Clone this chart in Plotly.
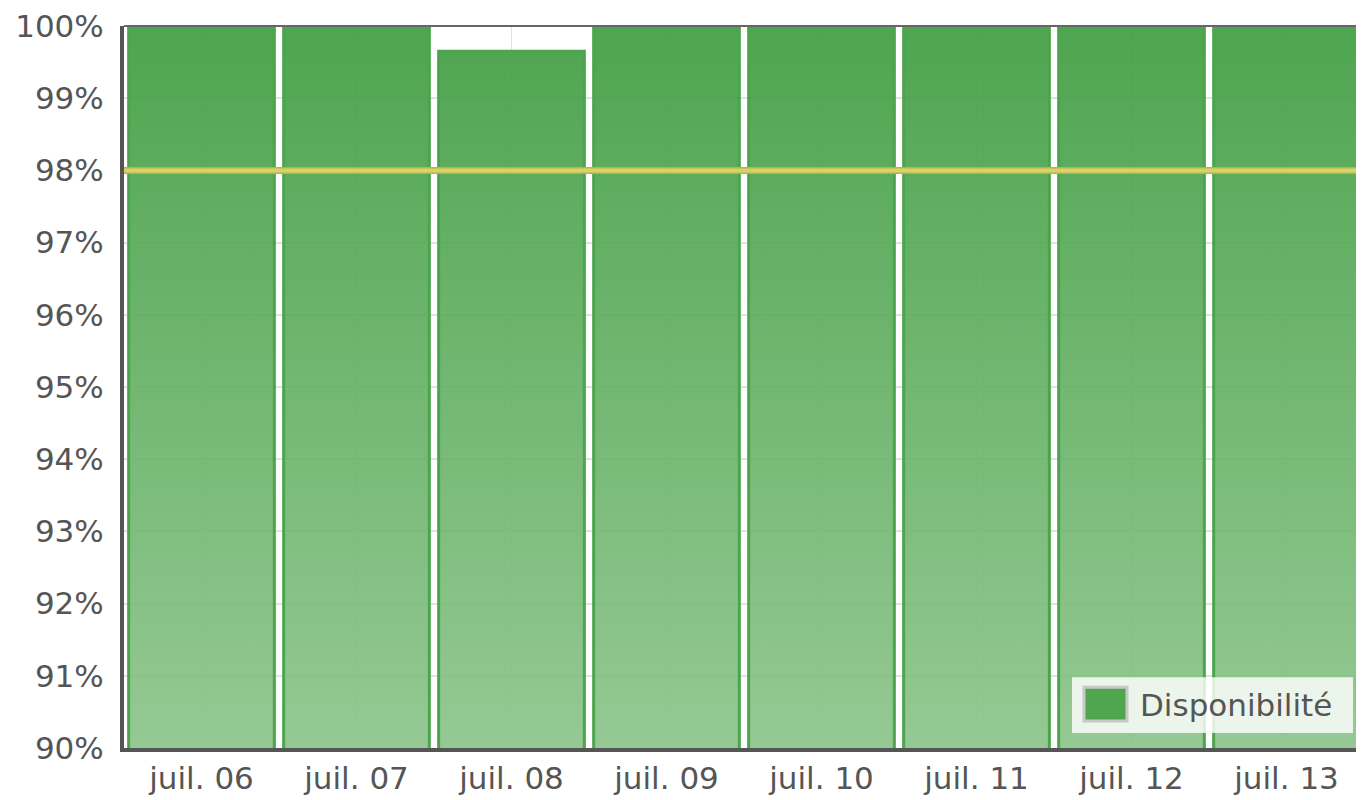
import plotly.graph_objects as go

# ---- data ----
categories = ["juil. 06", "juil. 07", "juil. 08", "juil. 09",
              "juil. 10", "juil. 11", "juil. 12", "juil. 13"]
availability = [100, 100, 99.65, 100, 100, 100, 100, 100]
threshold = 98
y_ticks = list(range(90, 101))
y_tick_labels = [f"{v}%" for v in y_ticks]
series_name = "Disponibilité"

FONT = "DejaVu Sans"
TXT = "#555555"
BAR_HALF = 0.47

# bar rectangles built from the data values
xs, ys = [], []
for i, v in enumerate(availability):
    xs += [i - BAR_HALF, i - BAR_HALF, i + BAR_HALF, i + BAR_HALF, i - BAR_HALF, None]
    ys += [0, v, v, 0, 0, None]

fig = go.Figure()
fig.add_trace(go.Scatter(
    x=xs, y=ys, mode="lines", fill="toself",
    line=dict(color="#4ca54c", width=3),
    fillgradient=dict(type="vertical", start=90, stop=100,
                      colorscale=[[0, "rgba(138,195,136,0.9)"],
                                  [1, "rgba(59,155,61,0.9)"]]),
    name=series_name, showlegend=False, hoverinfo="skip",
))

# threshold line
fig.add_shape(type="line", xref="paper", yref="y", x0=0, x1=1,
              y0=threshold, y1=threshold,
              line=dict(color="#bfae4c", width=7), layer="above")
fig.add_shape(type="line", xref="paper", yref="y", x0=0, x1=1,
              y0=threshold, y1=threshold,
              line=dict(color="#d6d367", width=4), layer="above")

# top border
fig.add_shape(type="line", xref="paper", yref="paper", x0=0, x1=1, y0=1, y1=1,
              line=dict(color="#666666", width=2), layer="above")

# manual legend (sized like the reference)
L, B, W, H = 124, 748, 1240, 724
def px(x): return (x - L) / W
def py(y): return (B - y) / H
fig.add_shape(type="rect", xref="paper", yref="paper",
              x0=px(1072), x1=px(1353), y0=py(733), y1=py(677),
              fillcolor="rgba(255,255,255,0.82)", line=dict(width=0), layer="above")
fig.add_shape(type="rect", xref="paper", yref="paper",
              x0=px(1084), x1=px(1127), y0=py(721), y1=py(687),
              fillcolor="#4fa64f", line=dict(color="#c8c8c8", width=3), layer="above")
fig.add_annotation(xref="paper", yref="paper", x=px(1138), y=py(705),
                   text=series_name, showarrow=False, xanchor="left", yanchor="middle",
                   font=dict(family=FONT, size=31, color=TXT))

# page body has an 8px margin, so the figure is offset by 8px
fig.update_layout(
    width=1356, height=792,
    margin=dict(l=116, r=0, t=16, b=52),
    paper_bgcolor="white", plot_bgcolor="white",
    showlegend=False,
    font=dict(family=FONT, size=31, color=TXT),
    xaxis=dict(range=[-0.5, 7.5], tickvals=list(range(len(categories))),
               ticktext=categories, showgrid=True, gridcolor="#e2e2e2", gridwidth=1,
               zeroline=False, showline=True, linecolor="#555555", linewidth=4,
               ticks="", ticklabeloverflow="allow", fixedrange=True),
    yaxis=dict(range=[90, 100], tickvals=y_ticks, ticktext=y_tick_labels,
               showgrid=True, gridcolor="#e2e2e2", gridwidth=2,
               zeroline=False, showline=True, linecolor="#555555", linewidth=4,
               ticks="", ticklabelstandoff=10, ticklabeloverflow="allow",
               fixedrange=True),
)

fig.write_html("out.html")
